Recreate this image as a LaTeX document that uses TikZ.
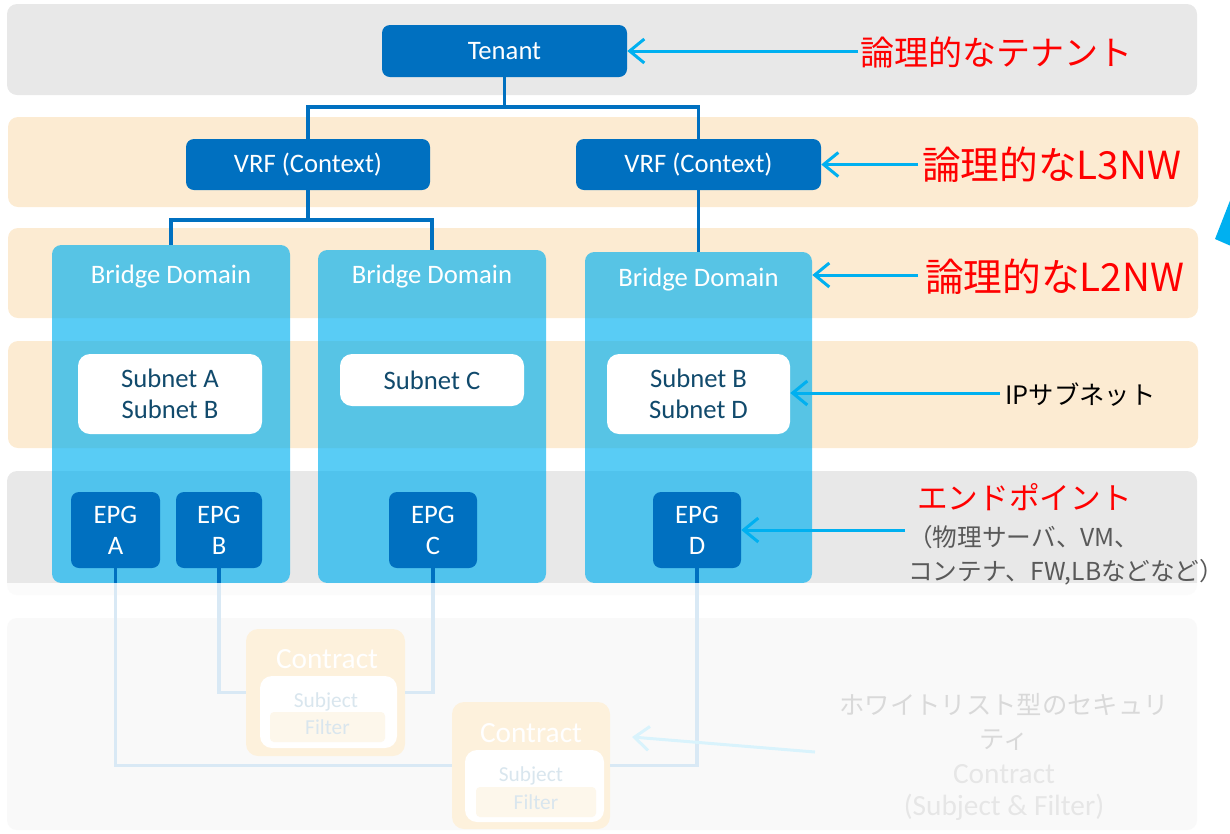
\documentclass[tikz,border=0pt]{standalone}
\usepackage{fontspec}
\setmainfont{Carlito}
\newfontfamily\jp{Noto Sans CJK JP}
\usetikzlibrary{arrows.meta}
\definecolor{bandgray}{HTML}{E8E8E8}
\definecolor{bandbeige}{HTML}{FCEBD2}
\definecolor{aciblue}{HTML}{0070C0}
\definecolor{acicyan}{HTML}{00B0F0}
\definecolor{subtext}{HTML}{114A6C}
\definecolor{lowgray}{HTML}{DADADA}
\definecolor{contractorange}{HTML}{F7A216}
\definecolor{filterorange}{HTML}{F8CA7A}
\definecolor{subjcol}{HTML}{01588E}
\definecolor{graytext}{HTML}{595959}
\begin{document}
\begin{tikzpicture}[x=0.75pt,y=-0.75pt,
  latin/.style={font=\fontsize{20}{23.25}\selectfont},
  darkbox/.style={fill=aciblue, rounded corners=6pt, text=white, latin, align=center, inner sep=0pt},
  bdbox/.style={fill=acicyan, fill opacity=0.65, rounded corners=7pt, inner sep=0pt},
  bdtitle/.style={text=white, latin, inner sep=0pt},
  subbox/.style={fill=white, rounded corners=9pt, text=subtext, latin, align=center, inner sep=0pt},
  tree/.style={draw=aciblue, line width=2.5pt},
  ptr/.style={draw=acicyan, line width=2.25pt, -{Straight Barb[length=11pt,width=18pt]}},
  jplabel/.style={anchor=west, inner sep=0pt, font=\jp},
  contractbox/.style={fill=contractorange, rounded corners=9pt, inner sep=0pt},
  innerbox/.style={fill=white, rounded corners=9pt, inner sep=0pt},
  filterbox/.style={fill=filterorange, rounded corners=3pt, inner sep=0pt, text=subjcol, font=\fontsize{16}{18}\selectfont},
  ctitle/.style={text=white, inner sep=0pt, font=\fontsize{22}{26}\selectfont},
  subjtext/.style={text=subjcol, inner sep=0pt, font=\fontsize{16}{18}\selectfont}
]
\useasboundingbox (0,0) rectangle (1230,833);

% layer bands
\fill[bandgray, rounded corners=7.5pt] (7,4) rectangle (1197,95);
\fill[bandbeige, rounded corners=7.5pt] (8,117) rectangle (1198,207);
\fill[bandbeige, rounded corners=7.5pt] (8,228) rectangle (1198,318);
\fill[bandbeige, rounded corners=7.5pt] (8,341) rectangle (1198,448);
\fill[bandgray, rounded corners=7.5pt] (7,471) rectangle (1197,595);
\fill[lowgray, rounded corners=7.5pt] (7,618) rectangle (1197,830);

% side triangle
\fill[acicyan] (1231,198) -- (1215,239) -- (1231,246) -- cycle;

% tenant and VRFs
\node[darkbox, minimum width=183.75pt, minimum height=39pt] (ten) at (504.5,51) {Tenant};
\node[darkbox, minimum width=183pt, minimum height=38.25pt] (vrf1) at (308,164.5) {VRF (Context)};
\node[darkbox, minimum width=183.75pt, minimum height=38.25pt] (vrf2) at (698.5,164.5) {VRF (Context)};

% bridge domains
\node[bdbox, minimum width=178.5pt, minimum height=253.5pt] (bd1) at (171,414) {};
\node[bdbox, minimum width=171pt, minimum height=249.75pt] (bd2) at (432,416.5) {};
\node[bdbox, minimum width=170.25pt, minimum height=248.25pt] (bd3) at (698.5,417.5) {};
\node[bdtitle] (bd1t) at (171,277) {Bridge Domain};
\node[bdtitle] (bd2t) at (432,277) {Bridge Domain};
\node[bdtitle] (bd3t) at (698.5,280) {Bridge Domain};

% subnets
\node[subbox, minimum width=138pt, minimum height=60pt] (s1) at (170,394) {Subnet A\\Subnet B};
\node[subbox, minimum width=138pt, minimum height=39pt] (s2) at (432,380) {Subnet C};
\node[subbox, minimum width=137.25pt, minimum height=60pt] (s3) at (698.5,394) {Subnet B\\Subnet D};

% EPGs
\node[darkbox, minimum width=66.75pt, minimum height=57pt] (epgA) at (115.5,530) {EPG\\A};
\node[darkbox, minimum width=64.5pt, minimum height=57pt] (epgB) at (219,530) {EPG\\B};
\node[darkbox, minimum width=66pt, minimum height=57pt] (epgC) at (433,530) {EPG\\C};
\node[darkbox, minimum width=66pt, minimum height=57pt] (epgD) at (697,530) {EPG\\D};

% tree connectors
\coordinate (j1) at (504.5,107);
\coordinate (j2) at (308,220);
\draw[tree] (ten.south) -- (j1) -| (vrf1.north);
\draw[tree] (j1) -| (vrf2.north);
\draw[tree] (vrf1.south) -- (j2) -| (bd1.north);
\draw[tree] (j2) -| (bd2.north);
\draw[tree] (vrf2.south) -- (bd3.north);

% contracts
\node[contractbox, minimum width=119.25pt, minimum height=95.25pt] (c1) at (325.5,692.5) {};
\node[ctitle] (c1t) at (327,659) {Contract};
\node[innerbox, minimum width=102.75pt, minimum height=54pt] (c1i) at (328.5,712) {};
\node[filterbox, minimum width=86.25pt, minimum height=22.5pt] (c1f) at (327.5,727) {Filter};
\node[subjtext] (c1s) at (326,702) {Subject};

\node[contractbox, minimum width=118.5pt, minimum height=95.25pt] (c2) at (531,765.5) {};
\node[ctitle] (c2t) at (531,733) {Contract};
\node[innerbox, minimum width=104.25pt, minimum height=54pt] (c2i) at (534.5,786) {};
\node[filterbox, minimum width=90pt, minimum height=22.5pt] (c2f) at (536,802) {Filter};
\node[subjtext] (c2s) at (531,776) {Subject};

% EPG to contract connectors
\draw[tree] (epgA.south) |- (c2.west);
\draw[tree] (c2.east) -| (epgD.south);
\draw[tree] (epgB.south) |- (c1.west);
\draw[tree] (epgC.south) |- (c1.east);

% faded security note
\node[inner sep=0pt, font=\jp\fontsize{19}{22}\selectfont, text=black] (wt1) at (1004,704) {ホワイトリスト型のセキュリ};
\node[inner sep=0pt, font=\jp\fontsize{19}{22}\selectfont, text=black] (wt2) at (1004,740) {ティ};
\node[inner sep=0pt, font=\fontsize{22}{26}\selectfont, text=graytext] (wt3) at (1004,774) {Contract};
\node[inner sep=0pt, font=\fontsize{22}{26}\selectfont, text=graytext] (wt4) at (1004,807) {(Subject \& Filter)};
\coordinate (a6) at (815,752);
\coordinate (a6e) at (632,737);
\draw[ptr] (a6) -- (a6e);

% fade overlay
\fill[white, opacity=0.85] (0,583) rectangle (1230,833);

% right labels
\node[jplabel, text=red, font=\jp\fontsize{25.5}{30}\selectfont] (l1) at (860,52) {論理的なテナント};
\node[jplabel, text=red, font=\jp\fontsize{29}{34}\selectfont] (l2) at (922,165) {論理的なL3NW};
\node[jplabel, text=red, font=\jp\fontsize{29}{34}\selectfont] (l3) at (925,277) {論理的なL2NW};
\node[jplabel, text=black, font=\jp\fontsize{19}{22}\selectfont] (l4) at (1005,395) {IPサブネット};
\node[jplabel, text=red, font=\jp\fontsize{23}{27}\selectfont] (l5) at (917,497) {エンドポイント};
\node[jplabel, text=graytext, font=\jp\fontsize{18.5}{22}\selectfont] (l6) at (908,537) {（物理サーバ、VM、};
\node[jplabel, text=graytext, font=\jp\fontsize{18.5}{22}\selectfont] (l7) at (908,572) {コンテナ、FW,LBなどなど）};

\coordinate (a1) at (858,51);
\coordinate (a2) at (918,164.5);
\coordinate (a3) at (918,275);
\coordinate (a4) at (1000,393);
\coordinate (a5) at (905,530);
\draw[ptr] (a1) -- (ten.east);
\draw[ptr] (a2) -- (vrf2.east);
\draw[ptr] (a3) -- (bd3.east |- a3);
\draw[ptr] (a4) -- (s3.east |- a4);
\draw[ptr] (a5) -- (epgD.east);
\end{tikzpicture}
\end{document}
